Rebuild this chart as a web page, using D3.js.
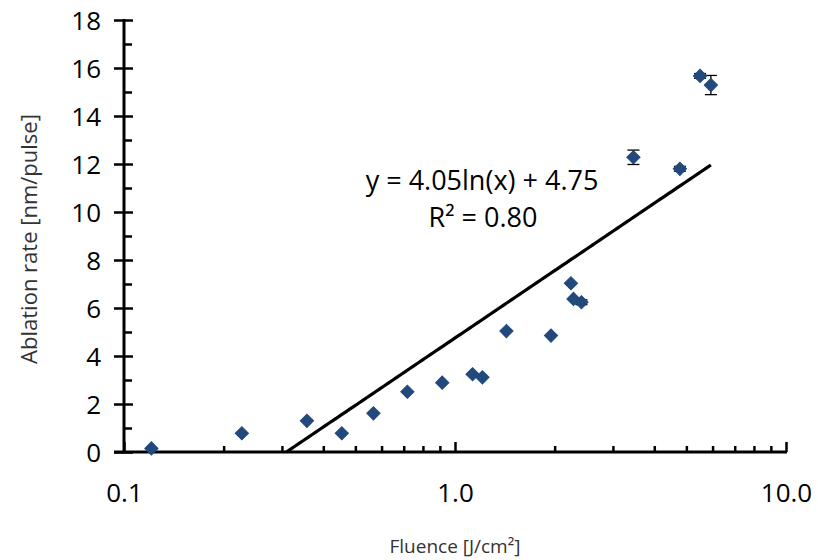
<!DOCTYPE html>
<html>
<head>
<meta charset="utf-8">
<script src="https://cdn.jsdelivr.net/npm/d3@7"></script>
<style>
  html, body { margin: 0; padding: 0; background: #fff; }
  svg { display: block; font-family: "Open Sans", "Liberation Sans", sans-serif; }
</style>
</head>
<body>
<svg id="chart" width="818" height="560"></svg>
<script>
// Fluence (J/cm²) for each measurement
const fluence = [0.121, 0.227, 0.357, 0.455, 0.567, 0.718, 0.915, 1.13, 1.21, 1.43,
                 1.95, 2.24, 2.28, 2.41, 3.46, 4.78, 5.50, 5.93];
// Ablation rate (nm/pulse)
const ablationRate = [0.15, 0.78, 1.30, 0.78, 1.61, 2.51, 2.89, 3.24, 3.11, 5.04,
                      4.85, 7.03, 6.38, 6.24, 12.28, 11.80, 15.67, 15.29];
// Standard deviation of the ablation rate
const rateError = [0, 0, 0, 0, 0, 0, 0, 0, 0, 0,
                   0, 0, 0, 0.1, 0.3, 0.1, 0.1, 0.4];

// Logarithmic trend line y = a ln(x) + b
const trendA = 4.05;
const trendB = 4.75;
const trendR2 = "0.80";

const xMajorTicks = [0.1, 1, 10];
const xMinorTicks = [0.2, 0.3, 0.4, 0.5, 0.6, 0.7, 0.8, 0.9, 2, 3, 4, 5, 6, 7, 8, 9];
const yMajorTicks = [0, 2, 4, 6, 8, 10, 12, 14, 16, 18];
const yMinorTicks = [1, 3, 5, 7, 9, 11, 13, 15, 17];

const svg = d3.select("#chart");
const plotLeft = 124, plotRight = 786, plotTop = 20, plotBottom = 452;

const x = d3.scaleLog().domain([0.1, 10]).range([plotLeft, plotRight]);
const y = d3.scaleLinear().domain([0, 18]).range([plotBottom, plotTop]);

const axisColor = "#000";
const markColor = "#22497c";

// Y axis: major ticks cross the axis, minor ticks point inward
const yAxis = svg.append("g").attr("transform", `translate(${plotLeft},0)`)
  .call(d3.axisLeft(y).tickValues(yMajorTicks).tickFormat(d3.format("d")).tickSizeOuter(0));
yAxis.select(".domain").remove();
yAxis.selectAll(".tick line").attr("x1", -10).attr("x2", 9)
  .attr("stroke", axisColor).attr("stroke-width", 2.5);
yAxis.selectAll(".tick text").attr("x", -23).attr("dy", "0.35em")
  .attr("font-size", 26).attr("fill", "#000")
  .attr("font-family", "'Open Sans', sans-serif");

const yMinor = svg.append("g").attr("transform", `translate(${plotLeft},0)`)
  .call(d3.axisLeft(y).tickValues(yMinorTicks).tickFormat("").tickSizeOuter(0));
yMinor.select(".domain").remove();
yMinor.selectAll(".tick line").attr("x1", 0).attr("x2", 8)
  .attr("stroke", axisColor).attr("stroke-width", 2.5);

// X axis: log scale, ticks pointing up into the plot
const xAxis = svg.append("g").attr("transform", `translate(0,${plotBottom})`)
  .call(d3.axisBottom(x).tickValues(xMajorTicks).tickFormat(d3.format(".1f")).tickSizeOuter(0));
xAxis.select(".domain").remove();
xAxis.selectAll(".tick line").attr("y1", 0).attr("y2", -10)
  .attr("stroke", axisColor).attr("stroke-width", 2.5);
xAxis.selectAll(".tick text").attr("y", 50).attr("dy", 0)
  .attr("font-size", 26).attr("fill", "#000")
  .attr("font-family", "'Open Sans', sans-serif");

const xMinor = svg.append("g").attr("transform", `translate(0,${plotBottom})`)
  .call(d3.axisBottom(x).tickValues(xMinorTicks).tickFormat("").tickSizeOuter(0));
xMinor.select(".domain").remove();
xMinor.selectAll(".tick line").attr("y1", 0).attr("y2", -6)
  .attr("stroke", axisColor).attr("stroke-width", 2.5);

// Axis lines
svg.append("line").attr("x1", plotLeft).attr("x2", plotLeft)
  .attr("y1", y(18) - 1).attr("y2", plotBottom + 1)
  .attr("stroke", axisColor).attr("stroke-width", 3);
svg.append("line").attr("x1", plotLeft - 10).attr("x2", plotRight + 1)
  .attr("y1", plotBottom).attr("y2", plotBottom)
  .attr("stroke", axisColor).attr("stroke-width", 3);

// Trend line from where it crosses zero to the largest fluence
const trend = v => trendA * Math.log(v) + trendB;
const xStart = Math.exp(-trendB / trendA);
const xEnd = d3.max(fluence);
const trendPts = d3.range(0, 101).map(i => {
  const v = Math.exp(Math.log(xStart) + (Math.log(xEnd) - Math.log(xStart)) * i / 100);
  return [v, trend(v)];
});
svg.append("path")
  .attr("d", d3.line().x(d => x(d[0])).y(d => y(d[1]))(trendPts))
  .attr("fill", "none").attr("stroke", "#000").attr("stroke-width", 3.2);

// Data points with error bars
const pts = fluence.map((f, i) => ({ f, r: ablationRate[i], e: rateError[i] }));
const errs = svg.append("g");
pts.filter(d => d.e > 0).forEach(d => {
  const cx = x(d.f);
  errs.append("line").attr("x1", cx).attr("x2", cx)
    .attr("y1", y(d.r + d.e)).attr("y2", y(d.r - d.e))
    .attr("stroke", "#000").attr("stroke-width", 1.3);
  [d.r + d.e, d.r - d.e].forEach(v => {
    errs.append("line").attr("x1", cx - 6).attr("x2", cx + 6)
      .attr("y1", y(v)).attr("y2", y(v))
      .attr("stroke", "#000").attr("stroke-width", 1.3);
  });
});

const diamond = d3.symbol().type(d3.symbolSquare).size(88);
svg.append("g").selectAll("path").data(pts).join("path")
  .attr("d", diamond)
  .attr("transform", d => `translate(${x(d.f)},${y(d.r)}) rotate(45)`)
  .attr("fill", markColor).attr("stroke", markColor).attr("stroke-width", 1);

// Trend equation
const eq = svg.append("text").attr("text-anchor", "middle")
  .attr("font-size", 27).attr("fill", "#000");
eq.append("tspan").attr("x", 482).attr("y", 190)
  .text(`y = ${trendA.toFixed(2)}ln(x) + ${trendB.toFixed(2)}`);
eq.append("tspan").attr("x", 483).attr("y", 227)
  .text(`R² = ${trendR2}`);

// Axis titles
svg.append("text").attr("x", 455).attr("y", 553).attr("text-anchor", "middle")
  .attr("font-size", 19).attr("fill", "#333").text("Fluence [J/cm²]");
svg.append("text").attr("transform", "translate(37,239) rotate(-90)")
  .attr("text-anchor", "middle").attr("font-size", 22).attr("fill", "#333")
  .text("Ablation rate [nm/pulse]");
</script>
</body>
</html>
